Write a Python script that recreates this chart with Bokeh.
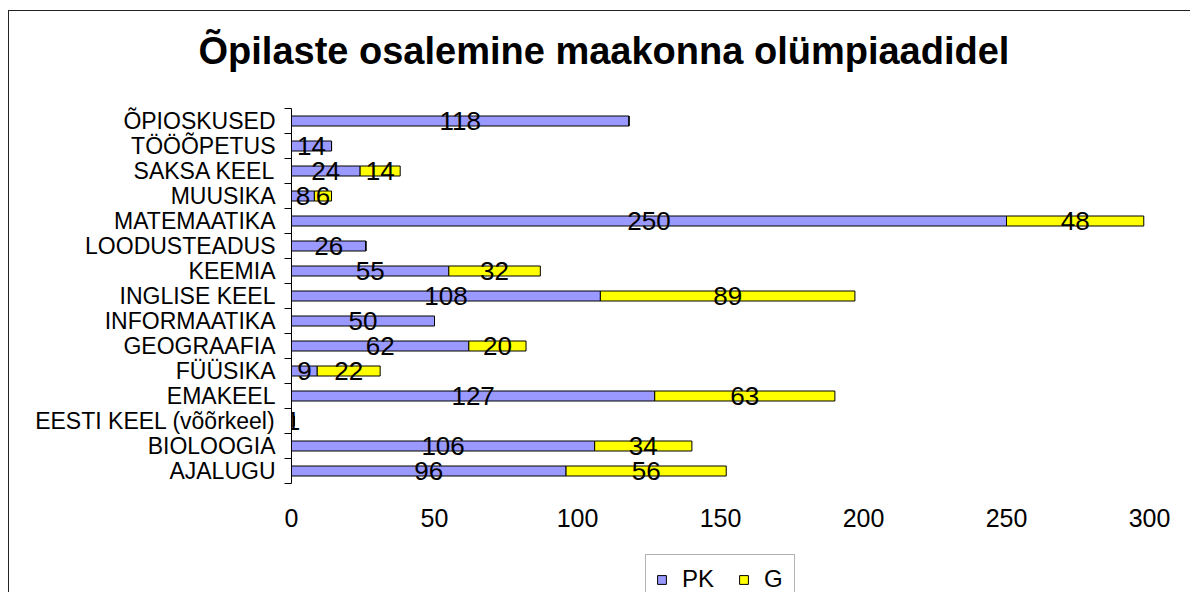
from bokeh.plotting import figure
from bokeh.layouts import column
from bokeh.models import (ColumnDataSource, Range1d, LinearAxis,
                          FixedTicker, Legend, LegendItem, Title)
from bokeh.core.properties import value
from bokeh.embed import file_html
from bokeh.resources import INLINE

# ---------------- data ----------------
categories = ["AJALUGU", "BIOLOOGIA", "EESTI KEEL (võõrkeel)", "EMAKEEL", "FÜÜSIKA",
              "GEOGRAAFIA", "INFORMAATIKA", "INGLISE KEEL", "KEEMIA", "LOODUSTEADUS",
              "MATEMAATIKA", "MUUSIKA", "SAKSA KEEL", "TÖÖÕPETUS", "ÕPIOSKUSED"]
pk = [96, 106, 1, 127, 9, 62, 50, 108, 55, 26, 250, 8, 24, 14, 118]
g = [56, 34, 0, 63, 22, 20, 0, 89, 32, 0, 48, 6, 14, 0, 0]
series_names = ["PK", "G"]
x_ticks = [0, 50, 100, 150, 200, 250, 300]
title_text = "Õpilaste osalemine maakonna olümpiaadidel"

FONT = "Liberation Sans"
PK_COLOR = "#9999FF"
G_COLOR = "#FFFF00"

# ---------------- sources ----------------
n = len(categories)
pos = [i + 0.5 for i in range(n)]          # category slot centres on the y scale
g_end = [a + b for a, b in zip(pk, g)]
src = ColumnDataSource(dict(y=pos, cat=categories, pk_left=[0] * n, pk_right=pk,
                            g_left=pk, g_right=g_end))

lab_x, lab_y, lab_t = [], [], []
for yv, a, b in zip(pos, pk, g):
    if a > 0:
        lab_x.append(a / 2); lab_y.append(yv); lab_t.append(str(a))
    if b > 0:
        lab_x.append(a + b / 2); lab_y.append(yv); lab_t.append(str(b))
lab_src = ColumnDataSource(dict(x=lab_x, y=lab_y, t=lab_t))

# ---------------- main figure ----------------
p = figure(width=1181, height=534,
           y_range=Range1d(0, n), x_range=Range1d(0, 300),
           output_backend="svg", toolbar_location=None,
           y_axis_location=None,
           min_border_left=282, min_border_right=41,
           min_border_top=97, min_border_bottom=62)
p.background_fill_color = "white"
p.border_fill_color = "white"
p.outline_line_color = None
p.xgrid.grid_line_color = None
p.ygrid.grid_line_color = None

# title: a thin spacer next to the frame, then the title itself
p.add_layout(Title(text=" ", text_font_size="1px", standoff=33), "above")
p.add_layout(Title(text=title_text, align="left", offset=-93, standoff=0,
                   vertical_align="middle",
                   text_font=FONT, text_font_size="38px", text_font_style="bold",
                   text_color="black"), "above")

# x axis
p.xaxis.ticker = FixedTicker(ticks=x_ticks)
p.xaxis.axis_line_color = None
p.xaxis.major_tick_line_color = None
p.xaxis.major_tick_out = 0
p.xaxis.major_tick_in = 0
p.xaxis.minor_tick_line_color = None
p.xaxis.major_label_standoff = 25
p.xaxis.major_label_text_font = FONT
p.xaxis.major_label_text_font_size = "25px"
p.xaxis.major_label_text_color = "black"

# y axis: labels at category centres, tick marks at category boundaries
overrides = {}
for c, name in zip(pos, categories):
    overrides[c] = name
    overrides[str(c)] = name
yax = LinearAxis(ticker=FixedTicker(ticks=pos, minor_ticks=list(range(n + 1))),
                 major_label_overrides=overrides)
yax.axis_line_color = "black"
yax.axis_line_width = 1
yax.major_tick_line_color = None
yax.major_tick_out = 0
yax.major_tick_in = 0
yax.minor_tick_line_color = "black"
yax.minor_tick_out = 7
yax.minor_tick_in = 0
yax.major_label_standoff = 9
yax.major_label_text_font = FONT
yax.major_label_text_font_size = "23px"
yax.major_label_text_color = "black"
p.add_layout(yax, "left")

# bars
p.hbar(y="y", left="pk_left", right="pk_right", height=0.4, source=src,
       fill_color=PK_COLOR, line_color="black", line_width=1)
p.hbar(y="y", left="g_left", right="g_right", height=0.4, source=src,
       fill_color=G_COLOR, line_color="black", line_width=1)

# value labels
p.text(x="x", y="y", text="t", source=lab_src, text_align="center",
       text_baseline="middle", text_font=value(FONT), text_font_size=value("26px"),
       text_color="black")

# ---------------- legend strip below ----------------
# The strip's ranges lie away from the data, so its bars only serve the legend swatches.
p2 = figure(width=1181, height=47, x_range=Range1d(-2, -1), y_range=Range1d(100, 101),
            output_backend="svg", toolbar_location=None,
            x_axis_location=None, y_axis_location=None, min_border=0)
p2.outline_line_color = None
p2.background_fill_color = "white"
p2.border_fill_color = "white"
p2.grid.visible = False
lr_pk = p2.hbar(y="y", left="pk_left", right="pk_right", height=0.4, source=src,
                fill_color=PK_COLOR, line_color="black", line_width=1)
lr_g = p2.hbar(y="y", left="g_left", right="g_right", height=0.4, source=src,
               fill_color=G_COLOR, line_color="black", line_width=1)
legend = Legend(items=[LegendItem(label=series_names[0], renderers=[lr_pk]),
                       LegendItem(label=series_names[1], renderers=[lr_g])],
                orientation="horizontal", location=(645 - 291, -12),
                label_text_font=FONT, label_text_font_size="24px",
                label_text_color="black",
                glyph_width=11, glyph_height=11, label_standoff=15,
                spacing=24, padding=10, margin=0, border_line_color="#666666",
                background_fill_color="white", background_fill_alpha=1)
p2.add_layout(legend)

layout = column(p, p2, spacing=0)
layout.styles = {"border-left": "1px solid #222", "border-top": "1px solid #222",
                 "margin-left": "8px", "margin-top": "10px"}

open("out.html", "w").write(file_html(layout, INLINE))
